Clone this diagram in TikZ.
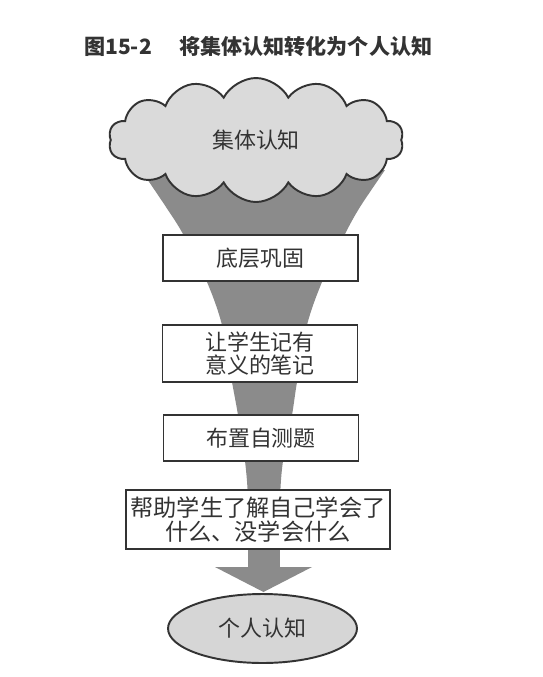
\documentclass[tikz,border=0pt]{standalone}
\usepackage{fontspec}
\usepackage{tikz}
\usetikzlibrary{shapes.symbols,shapes.geometric}
\usepackage{xcolor}
\newfontfamily\cjk{Noto Sans CJK SC}
\definecolor{inkgray}{HTML}{333333}
\definecolor{funnelgray}{HTML}{8B8B8B}
\definecolor{cloudgray}{HTML}{DADADA}
\definecolor{ovalgray}{HTML}{D6D6D6}

\begin{document}
\begin{tikzpicture}[x=0.02cm, y=-0.02cm,
  stepbox/.style={draw=inkgray, fill=white, line width=1.1pt, minimum width=3.9cm, minimum height=0.92cm, inner sep=0pt, align=center, text=inkgray, font=\cjk\fontsize{12.5}{13.5}\selectfont},
  heap/.style={draw=inkgray, fill=cloudgray, line width=1.1pt, text=inkgray, font=\cjk\fontsize{12.5}{13.5}\selectfont}]
\useasboundingbox (0,0) rectangle (543,677);
\fill[white] (0,0) rectangle (543,677);

% title
\node[anchor=west, text=inkgray, font=\cjk\bfseries\fontsize{12}{14}\selectfont] (title) at (78,47) {图15-2\hspace{1.3em}将集体认知转化为个人认知};

% funnel and arrow
\fill[funnelgray] plot[smooth] coordinates {(141,170) (166,207) (183,234) (207,282) (222,325) (232,382) (238,415) (245,461) (248,500) (248,567)}
  -- (215,567) -- (263.5,592) -- (312,567) -- (280,567)
  -- plot[smooth] coordinates {(280,567) (280,500) (283,461) (292,415) (297,382) (307,325) (322,282) (345,234) (360,207) (385,170)} -- cycle;

% cloud
\node[heap, cloud, cloud puffs=14, cloud puff arc=125, aspect=2.4, minimum width=5.9cm, minimum height=2.48cm, inner sep=0pt] (group) at (256,140) {集体认知};

% steps
\node[stepbox] (s1) at (260.5,258) {底层巩固};
\node[stepbox, minimum height=1.14cm] (s2) at (260,353.5) {让学生记有\\意义的笔记};
\node[stepbox] (s3) at (261,438) {布置自测题};
\node[stepbox, minimum width=5.28cm, minimum height=1.18cm, font=\cjk\fontsize{13.2}{13.5}\selectfont] (s4) at (258,519.5) {帮助学生了解自己学会了\\什么、没学会什么};

% individual
\node[heap, ellipse, fill=ovalgray, minimum width=3.78cm, minimum height=1.38cm, inner sep=0pt] (self) at (262.5,628.5) {个人认知};
\end{tikzpicture}
\end{document}
